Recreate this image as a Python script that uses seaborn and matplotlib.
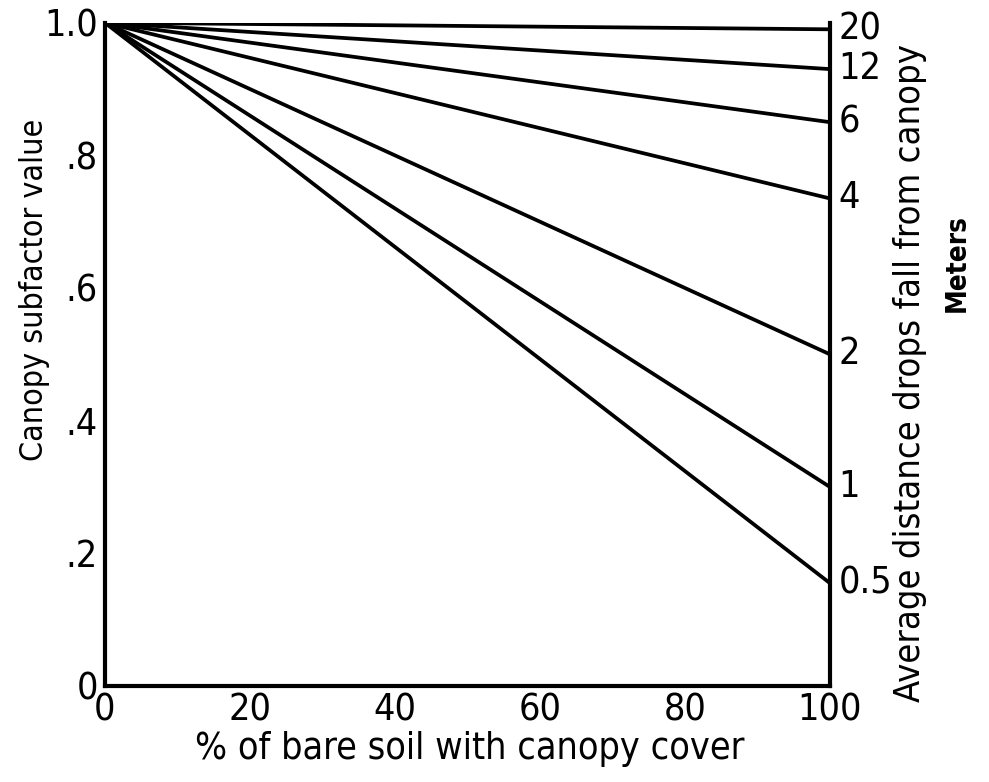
import matplotlib
matplotlib.use("Agg")
import matplotlib.pyplot as plt
import seaborn as sns
import pandas as pd

# Data
distance_labels = ["20", "12", "6", "4", "2", "1", "0.5"]
start_values = [1.0, 1.0, 1.0, 1.0, 1.0, 1.0, 1.0]
end_values = [0.99, 0.93, 0.85, 0.735, 0.50, 0.30, 0.155]
cover_start = 0
cover_end = 100
x_ticks = [0, 20, 40, 60, 80, 100]
y_ticks = [0, 0.2, 0.4, 0.6, 0.8, 1.0]
y_tick_labels = ["0", ".2", ".4", ".6", ".8", "1.0"]

rows = []
for lab, s, e in zip(distance_labels, start_values, end_values):
    rows.append({"distance": lab, "cover": cover_start, "value": s})
    rows.append({"distance": lab, "cover": cover_end, "value": e})
df = pd.DataFrame(rows)

sns.set_style("white")
plt.rcParams['font.family'] = ['DejaVu Sans']
plt.rcParams['font.stretch'] = 'condensed'
plt.rcParams['text.color'] = 'black'
plt.rcParams['axes.labelcolor'] = 'black'
plt.rcParams['xtick.color'] = 'black'
plt.rcParams['ytick.color'] = 'black'

fig = plt.figure(figsize=(9.89, 7.82), dpi=100)
ax = fig.add_axes([0.106, 0.123, 0.733, 0.848])

sns.lineplot(data=df, x="cover", y="value", hue="distance",
             palette=["black"] * len(distance_labels), linewidth=2.7,
             legend=False, ax=ax)

ax.set_xlim(0, 100)
ax.set_ylim(0, 1.0)
ax.set_xticks(x_ticks)
ax.set_xticklabels([str(t) for t in x_ticks], fontsize=27)
ax.set_yticks(y_ticks)
ax.set_yticklabels(y_tick_labels, fontsize=27)
ax.tick_params(axis="x", direction="in", length=5, width=1.5, pad=5)
ax.tick_params(axis="y", direction="in", length=0, pad=5)

for side in ["left", "bottom", "right"]:
    ax.spines[side].set_visible(True)
    ax.spines[side].set_color("black")
    ax.spines[side].set_linewidth(3)
ax.spines["top"].set_visible(False)

ax.set_xlabel("% of bare soil with canopy cover", fontsize=27)
ax.xaxis.label.set_va("center")
ax.xaxis.set_label_coords(0.503, -0.096)

ax.set_ylabel("Canopy subfactor value", fontsize=23)
ax.yaxis.label.set_va("center")
ax.yaxis.set_label_coords(-0.097, 0.597)

for lab, e in zip(distance_labels, end_values):
    ax.text(cover_end + 1.2, e, lab, fontsize=27, va="center", ha="left",
            clip_on=False)

ax.text(1.11, 0.472, "Average distance drops fall from canopy", transform=ax.transAxes,
        rotation=90, fontsize=26, ha="center", va="center")
ax.text(1.175, 0.638, "Meters", transform=ax.transAxes,
        rotation=90, fontsize=20, ha="center", va="center", fontweight="bold")

fig.savefig("out.png", dpi=100)
